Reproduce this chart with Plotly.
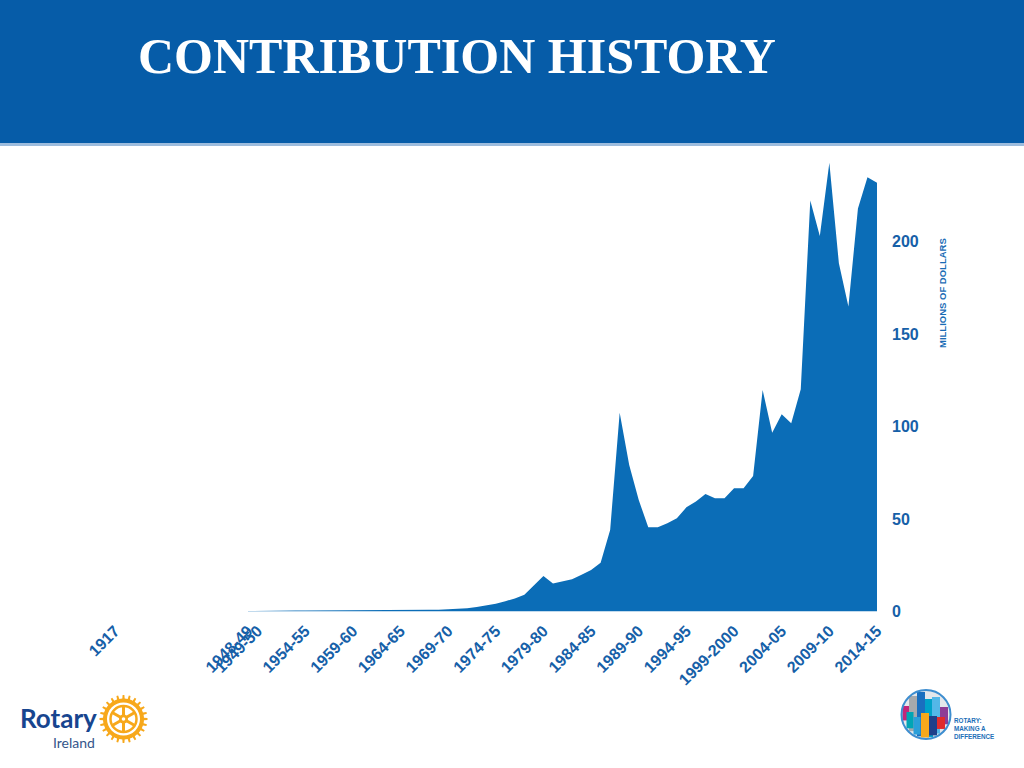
import math
import plotly.graph_objects as go

# Rotary Foundation contributions, millions of US dollars
years = list(range(1948, 2015))          # start year of each Rotary year
contributions = [
    0.3, 0.4, 0.4, 0.4, 0.5, 0.5, 0.5, 0.5, 0.5, 0.6,        # 1948-1957
    0.6, 0.6, 0.6, 0.7, 0.7, 0.7, 0.8, 0.8, 0.9, 0.9,        # 1958-1967
    1.0, 1.1, 1.2, 1.7, 2.4, 3.2, 4.2, 5.6, 7.0, 9.0,        # 1968-1977
    14.0, 19.2, 15.2, 16.2, 17.4, 19.8, 22.4, 26.4, 44.1, 107.5,   # 1978-1987
    79.2, 60.3, 45.5, 45.5, 47.7, 50.4, 56.3, 59.4, 63.5, 61.2,    # 1988-1997
    61.2, 66.6, 66.6, 73.2, 119.7, 96.6, 106.6, 101.7, 120.1, 222.1,  # 1998-2007
    203.0, 242.6, 188.2, 164.8, 217.9, 234.7, 231.8,               # 2008-2014
]
first_year = ["1917"]
first_value = [0.0000265]   # $26.50

tick_labels = ["1948-49", "1949-50", "1954-55", "1959-60", "1964-65", "1969-70",
               "1974-75", "1979-80", "1984-85", "1989-90", "1994-95", "1999-2000",
               "2004-05", "2009-10", "2014-15"]
tick_years = [int(t[:4]) for t in tick_labels]
y_ticks = [0, 50, 100, 150, 200]

BLUE = "#0B6DB7"
LABEL = "#1660A8"
NARROW = "Liberation Sans Narrow, Arial Narrow, Liberation Sans, Arial"


def px(x):
    return x / 1024


def py(y):
    return 1 - y / 768


fig = go.Figure()

fig.add_trace(go.Scatter(
    x=years, y=contributions,
    mode="lines", line=dict(width=0, color=BLUE),
    fill="tozeroy", fillcolor=BLUE,
    xaxis="x", yaxis="y", hoverinfo="x+y",
))
fig.add_trace(go.Scatter(
    x=first_year, y=first_value,
    mode="lines", line=dict(width=0, color=BLUE),
    fill="tozeroy", fillcolor=BLUE,
    xaxis="x2", yaxis="y",
))

tickfont = dict(family=NARROW, size=16, color=LABEL, weight="bold")

fig.update_layout(
    template="none",
    width=1024, height=768,
    margin=dict(l=0, r=0, t=0, b=0, pad=0),
    paper_bgcolor="white", plot_bgcolor="white",
    showlegend=False,
    xaxis=dict(
        domain=[px(248), px(877)], range=[1948, 2014],
        tickmode="array", tickvals=tick_years, ticktext=tick_labels,
        tickangle=-45, tickfont=tickfont, ticks="",
        showgrid=False, zeroline=False, showline=False,
        ticklabelstandoff=6, automargin=False,
    ),
    xaxis2=dict(
        domain=[px(105), px(125)], type="category",
        tickangle=-45, tickfont=tickfont, ticks="",
        showgrid=False, zeroline=False, showline=False,
        anchor="y", ticklabelstandoff=6, automargin=False,
    ),
    yaxis=dict(
        domain=[py(611.5), py(149)], range=[0, 250],
        side="right", tickmode="array", tickvals=y_ticks,
        tickfont=tickfont, ticks="",
        showgrid=False, zeroline=False, showline=False,
        ticklabelstandoff=14, automargin=False,
    ),
)

shapes = []
# header band
shapes.append(dict(type="rect", xref="paper", yref="paper", x0=0, x1=1,
                   y0=py(143), y1=1, fillcolor="#065CA8", line=dict(width=0), layer="below"))
shapes.append(dict(type="rect", xref="paper", yref="paper", x0=0, x1=1,
                   y0=py(146), y1=py(143), fillcolor="#9DBCDD", line=dict(width=0), layer="below"))

# Rotary wheel (bottom left)
cx, cy = 123.5, 719
pts = []
n = 24
for i in range(n):
    a0 = 2 * math.pi * i / n
    step = 2 * math.pi / n
    for off, r in [(-0.5, 20.5), (-0.22, 20.5), (-0.14, 24), (0.14, 24), (0.22, 20.5)]:
        a = a0 + off * step
        pts.append((cx + r * math.cos(a), cy + r * math.sin(a)))
path = "M " + " L ".join(f"{px(x):.5f},{py(y):.5f}" for x, y in pts) + " Z"
shapes.append(dict(type="path", xref="paper", yref="paper", path=path,
                   fillcolor="#F7A81B", line=dict(width=0)))


def circle(x, y, r, fill=None, line_color=None, lw=0):
    return dict(type="circle", xref="paper", yref="paper",
                x0=px(x - r), x1=px(x + r), y0=py(y + r), y1=py(y - r),
                fillcolor=fill if fill else "rgba(0,0,0,0)",
                line=dict(width=lw, color=line_color if line_color else "rgba(0,0,0,0)"))


shapes.append(circle(cx, cy, 16.5, fill="white"))
shapes.append(circle(cx, cy, 13, line_color="#F7A81B", lw=2.5))
for k in range(6):
    a = math.pi / 6 + k * math.pi / 3
    shapes.append(dict(type="line", xref="paper", yref="paper",
                       x0=px(cx), y0=py(cy), x1=px(cx + 13 * math.cos(a)), y1=py(cy + 13 * math.sin(a)),
                       line=dict(color="#F7A81B", width=3)))
shapes.append(circle(cx, cy, 4.5, fill="#F7A81B"))
shapes.append(circle(cx, cy, 1.8, fill="white"))

# "Making a difference" logo (bottom right)
lx, ly, lr = 926, 714.5, 24.5
shapes.append(circle(lx, ly, lr, fill="#E4E7EB"))
bars = [
    (906, 3.5, 706, "#C4257A"), (913, 4, 696, "#A7A9AC"), (910, 3.5, 712, "#00A5B5"),
    (921, 4, 692, "#1A6FBF"), (929, 4, 699, "#00A2C9"), (936, 4, 697, "#53B7E8"),
    (944, 4, 707, "#8E3C96"), (917, 3.5, 717, "#2B9FD9"), (925, 4, 713, "#F7A81B"),
    (933, 4, 716, "#1E3F8A"), (941, 4, 717, "#E02B2B"),
]
for bx, hw, top, col in bars:
    dx = max(abs(bx - hw - lx), abs(bx + hw - lx))
    bottom = ly + math.sqrt(max(lr ** 2 - dx ** 2, 0)) - 1
    shapes.append(dict(type="rect", xref="paper", yref="paper",
                       x0=px(bx - hw), x1=px(bx + hw), y0=py(bottom), y1=py(top),
                       fillcolor=col, line=dict(width=0)))
shapes.append(circle(lx, ly, lr, line_color="#3E8ED0", lw=2))

fig.update_layout(shapes=shapes)

annotations = [
    dict(text="CONTRIBUTION HISTORY", x=px(136), y=py(56), xanchor="left", yanchor="middle",
         font=dict(family="Liberation Serif, Times New Roman, serif", size=50, color="white", weight="bold")),
    dict(text="MILLIONS OF DOLLARS", x=px(942), y=py(293), textangle=-90,
         xanchor="center", yanchor="middle",
         font=dict(family=NARROW, size=9.5, color="#1A6CB5", weight="bold")),
    dict(text="Rotary", x=px(18), y=py(718), xanchor="left", yanchor="middle",
         font=dict(family="Lato, Open Sans, sans-serif", size=26, color="#17458F", weight="bold")),
    dict(text="Ireland", x=px(51), y=py(742), xanchor="left", yanchor="middle",
         font=dict(family="Lato, Open Sans, sans-serif", size=14, color="#34558A")),
    dict(text="ROTARY:<br>MAKING A<br>DIFFERENCE", x=px(952), y=py(728), xanchor="left",
         yanchor="middle", align="left",
         font=dict(family=NARROW, size=6.3, color="#1D6FB8", weight="bold")),
]
for a in annotations:
    a.update(xref="paper", yref="paper", showarrow=False)
fig.update_layout(annotations=annotations)

fig.write_html("out.html", config={"displayModeBar": False},
               post_script="document.body.style.margin='0';")
